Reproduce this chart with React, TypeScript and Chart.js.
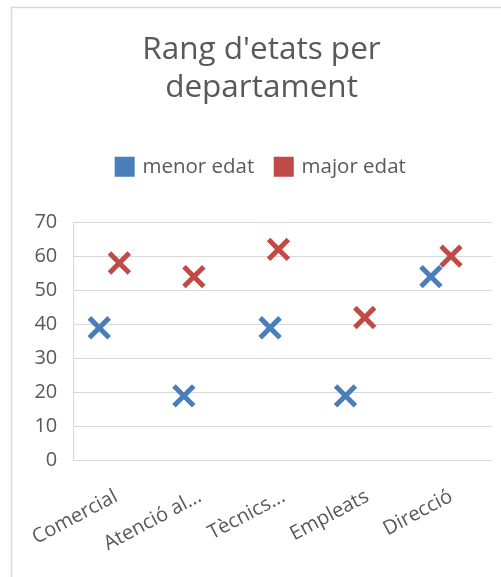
import { useEffect, useRef } from 'react';
import { Chart, registerables } from 'chart.js';

Chart.register(...registerables);

const departaments = ['Comercial', 'Atenció al...', 'Tècnics...', 'Empleats', 'Direcció'];
const menorEdat = [39, 19, 39, 19, 54];
const majorEdat = [58, 54, 62, 42, 60];
// where each marker sits inside its department slot (slot i spans i .. i+1)
const menorPos = [0.31, 1.32, 2.35, 3.25, 4.27];
const majorPos = [0.55, 1.44, 2.45, 3.48, 4.51];
const yTicks = [0, 10, 20, 30, 40, 50, 60, 70];

const FONT = "'Open Sans', sans-serif";
const TEXT = '#595959';
const GRID = '#d9d9d9';
const BLUE = '#4a7ebb';
const RED = '#be4b48';

// thin frame around the whole chart
const framePlugin = {
  id: 'frame',
  beforeDraw(chart: any) {
    const { ctx } = chart;
    ctx.save();
    ctx.strokeStyle = GRID;
    ctx.lineWidth = 1.5;
    ctx.strokeRect(11.5, 7.5, chart.width - 12, chart.height + 20);
    ctx.restore();
  },
};

export default function App() {
  const canvasRef = useRef<HTMLCanvasElement | null>(null);

  useEffect(() => {
    if (!canvasRef.current) return;
    const chart = new Chart(canvasRef.current, {
      type: 'scatter',
      data: {
        datasets: [
          {
            label: 'menor edat',
            data: menorEdat.map((y, i) => ({ x: menorPos[i], y })),
            backgroundColor: BLUE,
            borderColor: BLUE,
            borderWidth: 0,
            pointStyle: 'crossRot',
            pointRadius: 14,
            pointHoverRadius: 14,
            pointBorderWidth: 5,
            pointBorderColor: BLUE,
            showLine: false,
          },
          {
            label: 'major edat',
            data: majorEdat.map((y, i) => ({ x: majorPos[i], y })),
            backgroundColor: RED,
            borderColor: RED,
            borderWidth: 0,
            pointStyle: 'crossRot',
            pointRadius: 14,
            pointHoverRadius: 14,
            pointBorderWidth: 5,
            pointBorderColor: RED,
            showLine: false,
          },
        ],
      },
      options: {
        animation: false,
        responsive: true,
        maintainAspectRatio: false,
        events: [],
        layout: { padding: { left: 12, right: 0, top: 0, bottom: 0 } },
        plugins: {
          title: {
            display: true,
            text: ["Rang d'etats per", 'departament'],
            color: TEXT,
            font: { family: FONT, size: 31.5, weight: 'normal', lineHeight: 1.2 },
            padding: { top: 31, bottom: 28 },
          },
          legend: {
            display: true,
            position: 'top',
            labels: {
              boxWidth: 15,
              boxHeight: 15,
              padding: 22,
              color: TEXT,
              font: { family: FONT, size: 20.5 },
            },
          },
          subtitle: {
            display: true,
            text: '',
            weight: 500,
            font: { size: 10, lineHeight: 1 },
            padding: { top: 0, bottom: 25 },
          },
          tooltip: { enabled: false },
        },
        scales: {
          x: {
            type: 'linear',
            min: 0,
            max: departaments.length,
            grid: { display: false, drawTicks: false },
            border: { display: false },
            afterBuildTicks(scale: any) {
              scale.ticks = departaments.map((_, i) => ({ value: i + 0.5 }));
            },
            afterFit(scale: any) {
              scale.height = 116.3;
            },
            ticks: {
              autoSkip: false,
              minRotation: 28,
              maxRotation: 28,
              padding: 24,
              labelOffset: 1,
              color: TEXT,
              font: { family: FONT, size: 20 },
              callback: (v: any) => departaments[Math.round(Number(v) - 0.5)],
            },
          },
          y: {
            type: 'linear',
            min: yTicks[0],
            max: yTicks[yTicks.length - 1],
            grid: { color: GRID, lineWidth: 1, drawTicks: false },
            border: { display: true, color: GRID },
            afterBuildTicks(scale: any) {
              scale.ticks = yTicks.map((value) => ({ value }));
            },
            afterFit(scale: any) {
              scale.width = 61.3;
            },
            ticks: {
              padding: 16,
              color: TEXT,
              font: { family: FONT, size: 20 },
            },
          },
          yRight: {
            type: 'linear',
            position: 'right',
            display: true,
            grid: { display: false, drawTicks: false },
            border: { display: false },
            ticks: { display: false },
            afterFit(scale: any) {
              scale.width = 16;
            },
          },
        },
      },
      plugins: [framePlugin],
    } as any);
    return () => chart.destroy();
  }, []);

  return (
    <div
      style={{
        position: 'fixed',
        left: 0,
        top: 0,
        width: 501,
        height: 577,
        overflow: 'hidden',
        background: '#fff',
      }}
    >
      <div style={{ position: 'relative', width: 511, height: 577 }}>
        <canvas ref={canvasRef} />
      </div>
    </div>
  );
}
